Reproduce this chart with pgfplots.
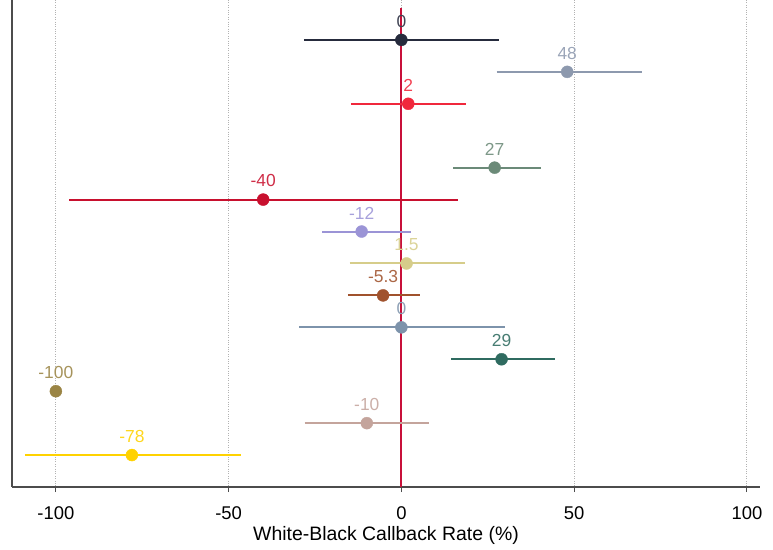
\documentclass[border=0pt]{standalone}
\usepackage{pgfplots}
\pgfplotsset{compat=1.18}
\usepackage{fontspec}
\setmainfont{Liberation Sans}
\definecolor{c1}{HTML}{262B3D}
\definecolor{c2}{HTML}{8D99AE}
\definecolor{c3}{HTML}{F0283C}
\definecolor{c5}{HTML}{6B8A78}
\definecolor{c6}{HTML}{C8102E}
\definecolor{c7}{HTML}{9B94D6}
\definecolor{c8}{HTML}{D6CD8A}
\definecolor{c9}{HTML}{A0522D}
\definecolor{c10}{HTML}{7D93AB}
\definecolor{c11}{HTML}{2F6B60}
\definecolor{c12}{HTML}{9A8444}
\definecolor{c13}{HTML}{C4A49C}
\definecolor{c14}{HTML}{FFD200}
\definecolor{zline}{HTML}{C8103A}
% row, value, lower, upper, colour, label
\newcommand{\pt}[6]{%
  \addplot[draw=#5, line width=2bp, forget plot] coordinates {(#3,#1) (#4,#1)};
  \addplot[draw=#5, fill=#5, only marks, mark=*, mark size=6bp,
  nodes near coords={#6},
  every node near coord/.style={text=#5!88!white, font=\fontsize{17.5}{19}\selectfont, anchor=south, yshift=9bp}]
  coordinates {(#2,#1)};}
\begin{document}
\begin{tikzpicture}
\useasboundingbox (-12bp,-63bp) rectangle (761bp,487bp);
\begin{axis}[
  scale only axis, width=748bp, height=487bp,
  xmin=-112.7, xmax=103.8, ymin=-0.25, ymax=15, y dir=reverse,
  axis x line=bottom, axis y line=left,
  axis line style={-, draw=black!70, line width=1.5bp},
  xtick={-100,-50,0,50,100}, ytick=\empty,
  tick style={black!70, line width=1bp},
  tick align=outside, major tick length=5bp,
  xmajorgrids, grid style={black!30, dotted, line width=1bp},
  /pgf/number format/assume math mode=true,
  ticklabel style={font=\fontsize{18.5}{20}\selectfont},
  xticklabel style={yshift=-11bp},
  xlabel={White-Black Callback Rate (\%)},
  xlabel style={font=\fontsize{19.5}{21}\selectfont, yshift=0bp},
  clip=false,
]
\addplot[draw=zline, line width=2bp, forget plot] coordinates {(0,0) (0,15)};
\pt{1}{0}{-28.2}{28.2}{c1}{0}
\pt{2}{48}{27.6}{69.6}{c2}{48}
\pt{3}{2}{-14.6}{18.7}{c3}{2}
\pt{5}{27}{15.0}{40.5}{c5}{27}
\pt{6}{-40}{-96.2}{16.5}{c6}{-40}
\pt{7}{-11.5}{-22.9}{2.9}{c7}{-12}
\pt{8}{1.5}{-15.0}{18.5}{c8}{1.5}
\pt{9}{-5.3}{-15.5}{5.5}{c9}{-5.3}
\pt{10}{0}{-29.5}{30.0}{c10}{0}
\pt{11}{29}{14.5}{44.5}{c11}{29}
\pt{12}{-100}{-100}{-100}{c12}{-100}
\pt{13}{-10}{-28.0}{8.0}{c13}{-10}
\pt{14}{-78}{-109.0}{-46.5}{c14}{-78}
\end{axis}
\end{tikzpicture}
\end{document}
